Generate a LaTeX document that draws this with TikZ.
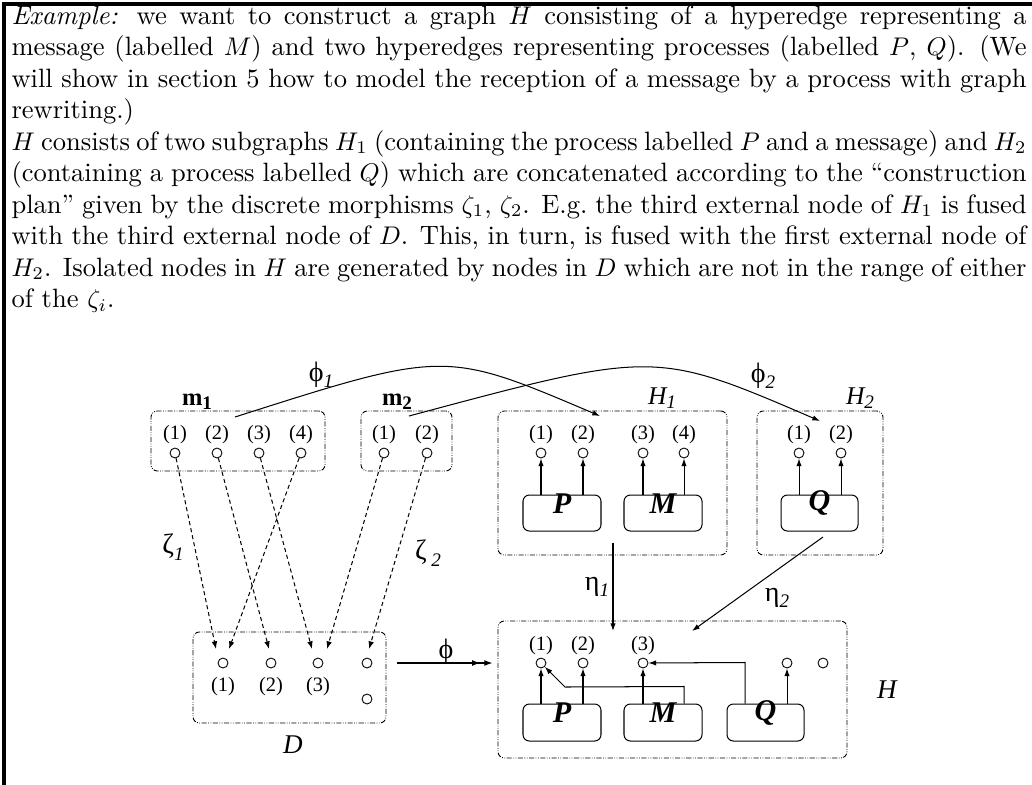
\documentclass[tikz,border=0pt]{standalone}
\usepackage{fontspec}
\newfontfamily\xfig{Liberation Serif}
\usetikzlibrary{arrows.meta,fit,calc}
\begin{document}
\begin{tikzpicture}[x=0.392pt,y=-0.392pt,
  tline/.style={anchor=base west, inner sep=0pt, font=\fontsize{10.4}{12}\selectfont},
  dbox/.style={draw, rounded corners=2.5pt, line width=0.35pt, inner sep=0pt,
     dash pattern=on 2pt off 0.6pt on 0.3pt off 0.6pt on 0.3pt off 0.6pt},
  ebox/.style={draw, rounded corners=2.5pt, line width=0.4pt, inner sep=0pt,
     font={\fontsize{11.8}{12}\xfig\bfseries\itshape}},
  vtx/.style={circle, draw, line width=0.35pt, minimum size=3.9pt, inner sep=0pt},
  plab/.style={inner sep=0pt, font={\fontsize{8}{9}\xfig}},
  glab/.style={inner sep=0pt, font={\fontsize{11}{12}\xfig}},
  nlab/.style={inner sep=0pt, font={\fontsize{10}{11}\xfig\itshape}},
  mlab/.style={inner sep=0pt, font={\fontsize{9.6}{10}\xfig\bfseries}},
  arr/.style={line width=0.4pt, -{Latex[length=3pt,width=2.1pt]}},
  zarr/.style={line width=0.4pt, dash pattern=on 1.6pt off 1.2pt, -{Latex[length=3pt,width=2.2pt]}},
  darr/.style={line width=0.45pt, -{Latex[length=3.2pt,width=2.3pt,sep=1.6pt]Latex[length=3.2pt,width=2.3pt]}}
]
\useasboundingbox (0,0) rectangle (1032,784);
% frame
\draw[line width=1.2pt] (4,800) -- (4,4) -- (1040,4);

% text
\def\W{397.9pt}
\node[tline] (t1) at (11,24) {\makebox[\W][s]{\textit{Example:} we want to construct a graph $H$ consisting of a hyperedge representing a}};
\node[tline] (t2) at (11,55.5) {\makebox[\W][s]{message (labelled $M$) and two hyperedges representing processes (labelled $P$, $Q$). (We}};
\node[tline] (t3) at (11,87) {\makebox[\W][s]{will show in section 5 how to model the reception of a message by a process with graph}};
\node[tline] (t4) at (11,118.5) {rewriting.)};
\node[tline] (t5) at (11,150) {\makebox[\W][s]{$H$ consists of two subgraphs $H_1$ (containing the process labelled $P$ and a message) and $H_2$}};
\node[tline] (t6) at (11,181.5) {\makebox[\W][s]{(containing a process labelled $Q$) which are concatenated according to the ``construction}};
\node[tline] (t7) at (11,213) {\makebox[\W][s]{plan'' given by the discrete morphisms $\zeta_1$, $\zeta_2$. E.g.\ the third external node of $H_1$ is fused}};
\node[tline] (t8) at (11,244.5) {\makebox[\W][s]{with the third external node of $D$. This, in turn, is fused with the first external node of}};
\node[tline] (t9) at (11,276) {\makebox[\W][s]{$H_2$. Isolated nodes in $H$ are generated by nodes in $D$ which are not in the range of either}};
\node[tline] (t10) at (11,307.5) {of the $\zeta_i$.};

% ---- m1 box
\node[dbox, fit={(151,411) (325,471)}] (m1box) {};
\node[mlab] (m1lab) at (197,402) {m\raisebox{-0.35ex}{\fontsize{7.5}{8}\selectfont 1}};
\foreach \i/\x in {1/175,2/217,3/259,4/301}{
  \node[vtx] (a\i) at (\x,453) {};
  \node[plab] (al\i) at (\x,435) {(\i)};
}
% ---- m2 box
\node[dbox, fit={(361,411) (452,471)}] (m2box) {};
\node[mlab] (m2lab) at (397,402) {m\raisebox{-0.35ex}{\fontsize{7.5}{8}\selectfont 2}};
\foreach \i/\x in {1/384,2/427}{
  \node[vtx] (b\i) at (\x,453) {};
  \node[plab] (bl\i) at (\x,435) {(\i)};
}
% ---- H1 box
\node[dbox, fit={(498,411) (727,555)}] (H1box) {};
\node[nlab] (H1lab) at (662,398) {H\raisebox{-0.35ex}{\fontsize{7.5}{8}\selectfont 1}};
\foreach \i/\x in {1/541,2/583,3/643,4/684}{
  \node[vtx] (c\i) at (\x,453) {};
  \node[plab] (cl\i) at (\x,435) {(\i)};
}
\node[ebox, fit={(523,495) (601,531)}] (cP) {P};
\node[ebox, fit={(624,495) (702,531)}] (cM) {M};
\draw[arr] (c1 |- cP.north) -- (c1);
\draw[arr] (c2 |- cP.north) -- (c2);
\draw[arr] (c3 |- cM.north) -- (c3);
\draw[arr] (c4 |- cM.north) -- (c4);
% ---- H2 box
\node[dbox, fit={(757,411) (883,555)}] (H2box) {};
\node[nlab] (H2lab) at (860,398) {H\raisebox{-0.35ex}{\fontsize{7.5}{8}\selectfont 2}};
\foreach \i/\x in {1/799,2/841}{
  \node[vtx] (e\i) at (\x,453) {};
  \node[plab] (el\i) at (\x,435) {(\i)};
}
\node[ebox, fit={(781,495) (858,531)}] (eQ) {Q};
\draw[arr] (e1 |- eQ.north) -- (e1);
\draw[arr] (e2 |- eQ.north) -- (e2);

% ---- D box
\node[dbox, fit={(193,632) (386,723)}] (Dbox) {};
\node[nlab, font={\fontsize{10.6}{11}\xfig\itshape}] (Dlab) at (293,745) {D};
\foreach \i/\x in {1/223,2/271,3/318,4/367}{
  \node[vtx] (d\i) at (\x,663) {};
}
\node[vtx] (d5) at (367,699) {};
\foreach \i/\x in {1/223,2/271,3/318}{
  \node[plab] (dl\i) at (\x,687) {(\i)};
}

% ---- H box
\node[dbox, fit={(498,621) (847,758)}] (Hbox) {};
\node[nlab, font={\fontsize{10.6}{11}\xfig\itshape}] (Hlab) at (887,690) {H};
\foreach \i/\x in {1/541,2/583,3/643,4/787,5/823}{
  \node[vtx] (h\i) at (\x,663) {};
}
\foreach \i/\x in {1/541,2/583,3/643}{
  \node[plab] (hl\i) at (\x,646) {(\i)};
}
\node[ebox, fit={(523,704) (601,741)}] (hP) {P};
\node[ebox, fit={(624,704) (702,741)}] (hM) {M};
\node[ebox, fit={(727,704) (804,741)}] (hQ) {Q};
\draw[arr] (h1 |- hP.north) -- (h1);
\draw[arr] (h2 |- hP.north) -- (h2);
\draw[arr] (h3 |- hM.north) -- (h3);
\draw[arr] (h4 |- hQ.north) -- (h4);
\draw[arr] ($(hM.north)+(21,0)$) -- ++(0,-17) -- (565,687) -- (h1);
\draw[arr] ($(hQ.north)+(-20.5,0)$) -- ($(hQ.north)+(-20.5,-41)$) -- (h3);

% ---- zeta arrows
\draw[zarr] (a1) -- ($(d1)+(-7,-14)$);
\draw[zarr] (a4) -- ($(d1)+(6,-14)$);
\draw[zarr] (a2) -- ($(d2)+(-2,-14)$);
\draw[zarr] (a3) -- ($(d3)+(-6,-14)$);
\draw[zarr] (b1) -- ($(d3)+(9,-14)$);
\draw[zarr] (b2) -- ($(d4)+(2,-14)$);
\node[glab] (z1) at (173,547) {ζ\raisebox{-0.5ex}{\fontsize{7.5}{8}\selectfont\itshape 1}};
\node[glab] (z2) at (428,553) {ζ\,\raisebox{-0.5ex}{\fontsize{7.5}{8}\selectfont\itshape 2}};

% ---- phi curves
\coordinate (f1s) at (235,417);
\coordinate (f1t) at (600,416);
\coordinate (f2s) at (409,416);
\coordinate (f2t) at (820,421);
\draw[arr] (f1s) .. controls (445,350) and (445,350) .. (f1t);
\draw[arr] (f2s) .. controls (655,350) and (655,350) .. (f2t);
\node[glab] (p1) at (321,375) {ϕ\raisebox{-0.5ex}{\fontsize{7.5}{8}\selectfont\itshape 1}};
\node[glab] (p2) at (763,376) {ϕ\raisebox{-0.5ex}{\fontsize{7.5}{8}\selectfont\itshape 2}};

% ---- eta arrows
\coordinate (n1s) at (613,543);
\coordinate (n1t) at (613,631);
\coordinate (n2s) at (823,537);
\coordinate (n2t) at (692,631);
\draw[arr] (n1s) -- (n1t);
\draw[arr] (n2s) -- (n2t);
\node[glab] (e1lab) at (597,587) {η\raisebox{-0.5ex}{\fontsize{7.5}{8}\selectfont\itshape 1}};
\node[glab] (e2lab) at (777,598) {η\raisebox{-0.5ex}{\fontsize{7.5}{8}\selectfont\itshape 2}};

% ---- phi arrow
\coordinate (fs) at (397,663);
\draw[darr] (fs) -- ($(Hbox.west |- fs)+(-5,0)$);
\node[glab] (flab) at (446,652) {ϕ};
\end{tikzpicture}
\end{document}
